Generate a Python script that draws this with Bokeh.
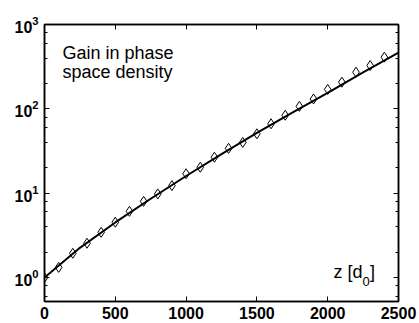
from bokeh.plotting import figure
from bokeh.models import LogAxis, LinearAxis, FixedTicker, Label, LogTicker, CustomJSTickFormatter
from bokeh.embed import file_html
from bokeh.resources import INLINE

# Marker data (z in units of d0, gain in phase space density)
z_markers = [0, 100, 200, 300, 400, 500, 600, 700, 800, 900, 1000, 1100, 1200,
             1300, 1400, 1500, 1600, 1700, 1800, 1900, 2000, 2100, 2200, 2300, 2400]
gain_markers = [1.0, 1.32, 1.94, 2.55, 3.44, 4.53, 6.1, 8.0, 9.8, 12.3, 17.0, 20.3, 26.7,
                34.0, 40.0, 50.6, 66.5, 84.0, 107.0, 131.0, 170.0, 207.0, 272.0, 326.0, 410.0]

# Smooth curve
z_line = [0, 250, 500, 750, 1000, 1250, 1500, 1750, 2000, 2250, 2500]
gain_line = [1.0, 2.25, 4.5, 8.6, 16.0, 29.0, 52.0, 90.0, 155.0, 270.0, 465.0]

x_ticks = [0, 500, 1000, 1500, 2000, 2500]

FONT = "Liberation Sans"

p = figure(width=419, height=323, y_axis_type="log",
           x_range=(0, 2500), y_range=(0.52, 1000),
           output_backend="svg", toolbar_location=None,
           min_border_left=44, min_border_right=21, min_border_top=24, min_border_bottom=22)
p.grid.visible = False
p.outline_line_color = "black"
p.outline_line_width = 1.5
p.background_fill_color = "white"
p.border_fill_color = "white"

def style_axis(ax, show_labels=True, minor=True):
    ax.axis_line_color = "black"
    ax.axis_line_width = 1.5
    ax.major_tick_in = 5
    ax.major_tick_out = 0
    ax.major_tick_line_color = "black"
    ax.major_tick_line_width = 1
    if minor:
        ax.minor_tick_in = 3
        ax.minor_tick_out = 0
        ax.minor_tick_line_color = "black"
    else:
        ax.minor_tick_line_color = None
    ax.major_label_text_font = FONT
    ax.major_label_text_font_style = "bold"
    ax.major_label_text_color = "black"
    ax.major_label_text_font_size = "16px"
    ax.major_label_standoff = 5
    if not show_labels:
        ax.formatter = CustomJSTickFormatter(code="return ''")
        ax.major_label_standoff = 0

xb = p.xaxis[0]
xb.ticker = FixedTicker(ticks=x_ticks)
style_axis(xb, minor=False)
yl = p.yaxis[0]
yl.ticker = LogTicker(desired_num_ticks=4)
style_axis(yl)
yl.major_label_standoff = 6

xt = LinearAxis(ticker=FixedTicker(ticks=x_ticks))
style_axis(xt, show_labels=False, minor=False)
p.add_layout(xt, "above")
yr = LogAxis(ticker=LogTicker(desired_num_ticks=4))
style_axis(yr, show_labels=False)
p.add_layout(yr, "right")

p.line(z_line, gain_line, line_color="black", line_width=2)
p.scatter(z_markers, gain_markers, marker="diamond", size=10,
          fill_alpha=0, line_color="black", line_width=1)

def add_text(x, y, t, size="18px", style="normal"):
    p.add_layout(Label(x=x, y=y, text=t, text_font=FONT, text_font_size=size,
                       text_font_style=style, text_color="black",
                       text_baseline="alphabetic", text_align="left"))

add_text(127, 465, "Gain in phase")
add_text(127, 270, "space density")
add_text(2041, 1.178, "z [d", size="18px")
add_text(2246, 0.897, "0", size="13px")
add_text(2299, 1.178, "]", size="18px")

open("out.html", "w").write(file_html(p, INLINE))
